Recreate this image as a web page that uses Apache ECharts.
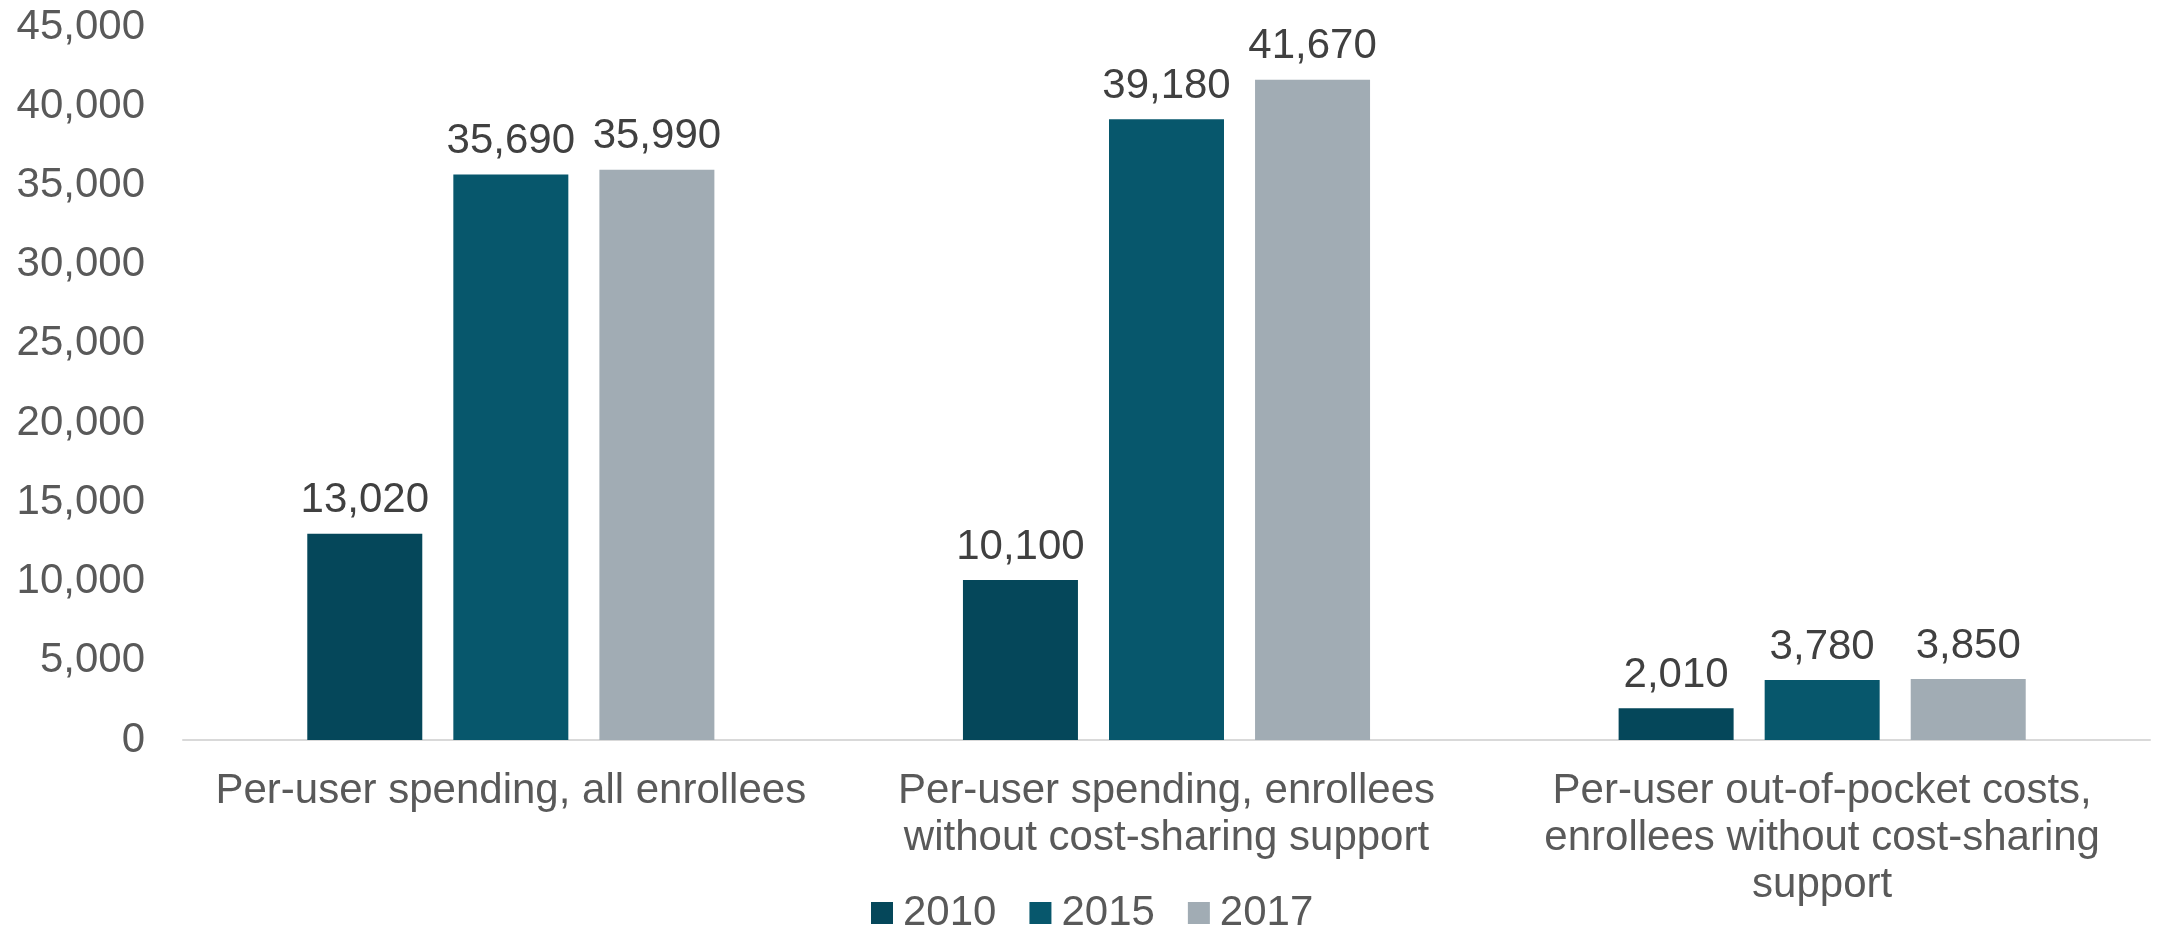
<!DOCTYPE html>
<html>
<head>
<meta charset="utf-8">
<script src="https://cdn.jsdelivr.net/npm/echarts@6/dist/echarts.min.js"></script>
<style>
  html, body { margin: 0; padding: 0; background: #fff; }
  #chart { width: 2159px; height: 926px; }
</style>
</head>
<body>
<div id="chart"></div>
<script>
  var categories = [
    'Per-user spending, all enrollees',
    'Per-user spending, enrollees\nwithout cost-sharing support',
    'Per-user out-of-pocket costs,\nenrollees without cost-sharing\nsupport'
  ];
  var years = ['2010', '2015', '2017'];
  var values2010 = [13020, 10100, 2010];
  var values2015 = [35690, 39180, 3780];
  var values2017 = [35990, 41670, 3850];
  var colors = ['#05475A', '#07576C', '#A1ACB4'];

  var fmt = function (v) { return v.toLocaleString('en-US'); };
  var font = '"Liberation Sans", Arial, sans-serif';

  function makeSeries (name, data, color) {
    return {
      name: name,
      type: 'bar',
      data: data,
      barWidth: 115,
      barGap: '27%',
      itemStyle: { color: color },
      label: {
        show: true,
        position: 'top',
        distance: 12,
        fontSize: 42,
        fontFamily: font,
        color: '#404040',
        formatter: function (p) { return fmt(p.value); }
      }
    };
  }

  var chart = echarts.init(document.getElementById('chart'));
  chart.setOption({
    animation: false,
    textStyle: { fontFamily: font },
    grid: { left: 183, right: 9, top: 27, bottom: 186, containLabel: false },
    legend: {
      data: years,
      left: 866,
      top: 887,
      itemWidth: 22,
      itemHeight: 22,
      itemGap: 33,
      icon: 'rect',
      textStyle: { fontSize: 42, color: '#595959', fontFamily: font, padding: [0, 0, 0, 5] }
    },
    xAxis: {
      type: 'category',
      data: categories,
      axisLine: { lineStyle: { color: '#D9D9D9', width: 2 } },
      axisTick: { show: false },
      axisLabel: {
        fontSize: 42,
        lineHeight: 47,
        color: '#595959',
        margin: 28,
        interval: 0,
        fontFamily: font
      }
    },
    yAxis: {
      type: 'value',
      min: 0,
      max: 45000,
      interval: 5000,
      axisLine: { show: false },
      axisTick: { show: false },
      splitLine: { show: false },
      axisLabel: {
        fontSize: 42,
        color: '#595959',
        margin: 38,
        fontFamily: font,
        formatter: fmt
      }
    },
    series: [
      makeSeries(years[0], values2010, colors[0]),
      makeSeries(years[1], values2015, colors[1]),
      makeSeries(years[2], values2017, colors[2])
    ]
  });
</script>
</body>
</html>
